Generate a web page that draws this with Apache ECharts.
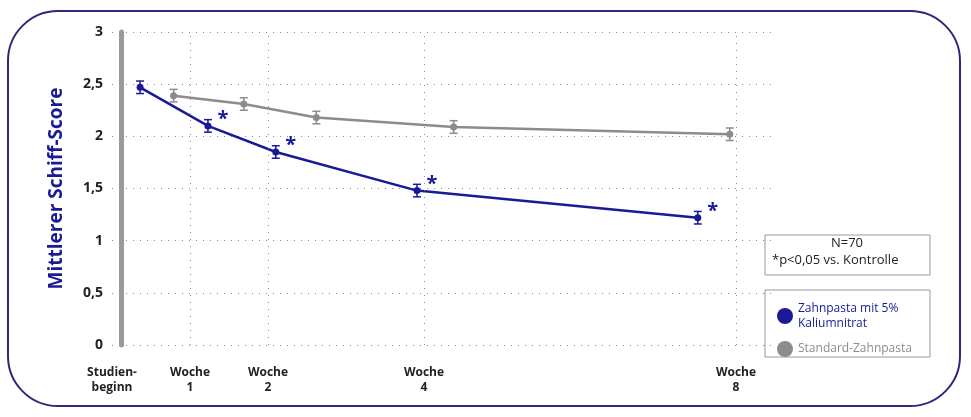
<!DOCTYPE html>
<html>
<head>
<meta charset="utf-8"/>
<script src="https://cdn.jsdelivr.net/npm/echarts@6/dist/echarts.min.js"></script>
</head>
<body style="margin:0;background:#fff">
<div id="main" style="width:971px;height:417px;"></div>
<script>
var weekLabels = {0: 'Studien-\nbeginn', 1: 'Woche\n1', 2: 'Woche\n2', 4: 'Woche\n4', 8: 'Woche\n8'};
var blueX = [0.36, 1.23, 2.10, 3.91, 7.51];
var blueY = [2.47, 2.10, 1.85, 1.48, 1.22];
var blueErr = [0.06, 0.06, 0.06, 0.06, 0.06];
var blueSig = [false, true, true, true, true];
var grayX = [0.79, 1.69, 2.62, 4.38, 7.92];
var grayY = [2.39, 2.31, 2.18, 2.09, 2.02];
var grayErr = [0.06, 0.06, 0.06, 0.06, 0.06];
var blue = '#1a1a96', gray = '#8c8c8c';

function pts(xs, ys) { return xs.map(function (x, i) { return [x, ys[i]]; }); }
function errData(xs, ys, es, sig) {
  return xs.map(function (x, i) { return [x, ys[i] - es[i], ys[i] + es[i], sig ? (sig[i] ? 1 : 0) : 0]; });
}
function errRender(color) {
  return function (params, api) {
    var lo = api.coord([api.value(0), api.value(1)]);
    var hi = api.coord([api.value(0), api.value(2)]);
    var w = 4, st = {stroke: color, lineWidth: 1.5};
    var ch = [
      {type: 'line', shape: {x1: lo[0], y1: lo[1], x2: hi[0], y2: hi[1]}, style: st},
      {type: 'line', shape: {x1: lo[0] - w, y1: lo[1], x2: lo[0] + w, y2: lo[1]}, style: st},
      {type: 'line', shape: {x1: hi[0] - w, y1: hi[1], x2: hi[0] + w, y2: hi[1]}, style: st}
    ];
    if (api.value(3)) {
      ch.push({type: 'text', style: {x: hi[0] + 15, y: hi[1] - 10, text: '*', fill: color, font: 'bold 20px "Open Sans"', textAlign: 'center'}});
    }
    return {type: 'group', children: ch};
  };
}
var chart = echarts.init(document.getElementById('main'));
chart.setOption({
  animation: false,
  textStyle: {fontFamily: '"Open Sans", sans-serif'},
  graphic: [
    {type: 'rect', shape: {x: 8, y: 11, width: 952, height: 395, r: 50}, style: {fill: 'none', stroke: '#2b2a7a', lineWidth: 2}},
    {type: 'rect', shape: {x: 765, y: 235, width: 165, height: 40}, style: {fill: '#fff', stroke: '#999', lineWidth: 1}},
    {type: 'text', style: {x: 847, y: 237, text: 'N=70', font: '13px "Open Sans"', fill: '#222', textAlign: 'center'}},
    {type: 'text', style: {x: 772, y: 254, text: '*p<0,05 vs. Kontrolle', font: '13px "Open Sans"', fill: '#222'}},
    {type: 'rect', shape: {x: 765, y: 290, width: 165, height: 67}, style: {fill: '#fff', stroke: '#999', lineWidth: 1}}
  ],
  grid: {left: 112, right: 196, top: 32, bottom: 72},
  legend: {
    left: 772, top: 296, orient: 'vertical', itemGap: 10, icon: 'circle', itemWidth: 16, itemHeight: 16,
    data: [
      {name: 'Zahnpasta mit 5%\nKaliumnitrat', textStyle: {color: blue}},
      {name: 'Standard-Zahnpasta', textStyle: {color: gray}}
    ],
    textStyle: {fontSize: 12, lineHeight: 15}
  },
  xAxis: {
    type: 'value', min: 0, max: 8.5, interval: 1,
    axisLine: {show: false}, axisTick: {show: false}, splitLine: {show: false},
    axisLabel: {
      margin: 20, fontWeight: 'bold', fontSize: 12, color: '#222', lineHeight: 15,
      showMaxLabel: false,
      formatter: function (v) { return weekLabels[v] || ''; }
    }
  },
  yAxis: {
    type: 'value', min: 0, max: 3, interval: 0.5,
    name: 'Mittlerer Schiff-Score', nameLocation: 'middle', nameGap: 55,
    nameTextStyle: {color: blue, fontSize: 19, fontWeight: 'bold'},
    axisLine: {show: true, onZero: false, lineStyle: {color: '#999', width: 5}},
    offset: -9,
    axisTick: {show: false},
    axisLabel: {margin: 18, fontSize: 14, fontWeight: 'bold', color: '#222',
      formatter: function (v) { return String(v).replace('.', ','); }},
    splitLine: {show: true, lineStyle: {type: [1, 6], color: '#888'}}
  },
  series: [
    {name: 'Standard-Zahnpasta', type: 'line', data: pts(grayX, grayY), color: gray,
      symbol: 'circle', symbolSize: 7, lineStyle: {width: 2.5}, z: 3,
      markLine: {silent: true, symbol: 'none', label: {show: false},
        lineStyle: {type: [1, 6], color: '#888', width: 1},
        data: [{xAxis: 1}, {xAxis: 2}, {xAxis: 4}, {xAxis: 8}]}},
    {name: 'Zahnpasta mit 5%\nKaliumnitrat', type: 'line', data: pts(blueX, blueY), color: blue,
      symbol: 'circle', symbolSize: 7, lineStyle: {width: 2.5}, z: 4},
    {type: 'custom', data: errData(grayX, grayY, grayErr, null), renderItem: errRender(gray), z: 5, encode: {x: 0, y: [1, 2]}},
    {type: 'custom', data: errData(blueX, blueY, blueErr, blueSig), renderItem: errRender(blue), z: 6, encode: {x: 0, y: [1, 2]}}
  ]
});
</script>
</body>
</html>
